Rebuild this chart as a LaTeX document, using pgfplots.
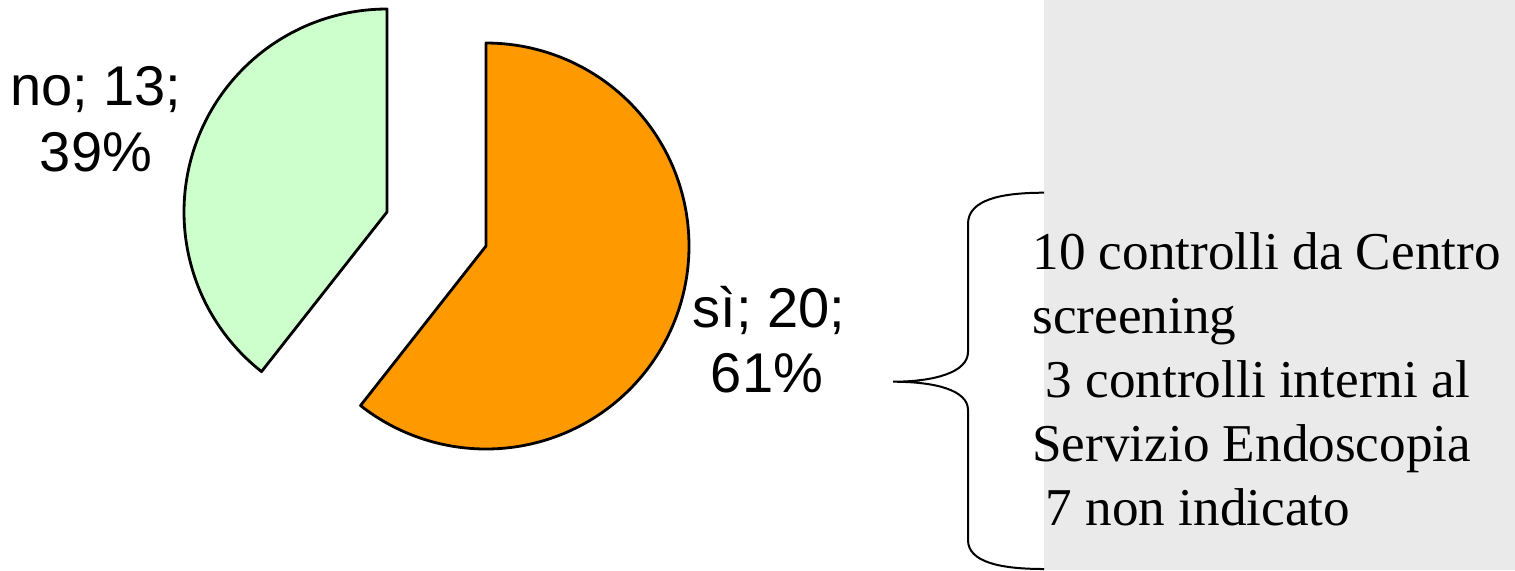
\documentclass[border=0pt]{standalone}
\usepackage{pgfplots}
\pgfplotsset{compat=1.18}
\usepackage{pgfplotstable}
\usepackage{fontspec}
\setmainfont{Liberation Serif}
\newfontfamily\arial{Liberation Sans}
\definecolor{pieorange}{HTML}{FF9900}
\definecolor{piegreen}{HTML}{CCFFCC}
\definecolor{texture}{HTML}{EAEAEA}
\pgfplotstableread{
label value
no 13
si 20
}\piedata
\pgfplotstablegetelem{0}{value}\of\piedata\let\vno\pgfplotsretval
\pgfplotstablegetelem{1}{value}\of\piedata\let\vsi\pgfplotsretval
\pgfmathsetmacro\total{\vno+\vsi}
\pgfmathsetmacro\siend{90-360*\vsi/\total}
\pgfmathsetmacro\noend{90+360*\vno/\total}
\begin{document}
\begin{tikzpicture}
\begin{axis}[
  scale only axis, width=757.5pt, height=285pt,
  xmin=0, xmax=1515, ymin=0, ymax=570, y dir=reverse,
  hide axis, clip=false,
]
% textured panel
\fill[texture] (axis cs:1044,0) rectangle (axis cs:1515,570);
% pie slices (exploded)
\addplot[draw=black, line width=1.4pt, line join=round, fill=pieorange,
  domain=\siend:90, samples=200]
  ({486+203*cos(x)}, {246-203*sin(x)}) -- (axis cs:486,246) -- cycle;
\addplot[draw=black, line width=1.4pt, line join=round, fill=piegreen,
  domain=90:\noend, samples=200]
  ({387+203*cos(x)}, {212-203*sin(x)}) -- (axis cs:387,212) -- cycle;
% brace
\draw[black, line width=1pt]
  (axis cs:1044,192.7) .. controls (axis cs:1000,192.7) and (axis cs:968,200) ..
  (axis cs:968,224) -- (axis cs:968,352)
  .. controls (axis cs:968,372) and (axis cs:935,381.7) .. (axis cs:893,381.7)
  .. controls (axis cs:935,381.7) and (axis cs:968,390) .. (axis cs:968,410)
  -- (axis cs:968,540)
  .. controls (axis cs:968,562) and (axis cs:1000,569) .. (axis cs:1044,569);
% data labels
\begin{scope}[every node/.style={inner sep=0pt, anchor=base, font=\arial\fontsize{28}{33}\selectfont}]
\node at (axis cs:96,105) {no; 13;};
\node at (axis cs:96,171) {39\%};
\node at (axis cs:769,327) {sì; 20;};
\node at (axis cs:767,392) {61\%};
\end{scope}
% annotation text
\begin{scope}[every node/.style={inner sep=0pt, anchor=base west, font=\fontsize{26.6}{32}\selectfont}]
\node at (axis cs:1032,269) {10 controlli da Centro};
\node at (axis cs:1032,333) {screening};
\node at (axis cs:1032,397) {~3 controlli interni al};
\node at (axis cs:1032,461) {Servizio Endoscopia};
\node at (axis cs:1032,525) {~7 non indicato};
\end{scope}
\end{axis}
\pgfresetboundingbox
\path (current axis.south west) rectangle (current axis.north east);
\end{tikzpicture}
\end{document}
